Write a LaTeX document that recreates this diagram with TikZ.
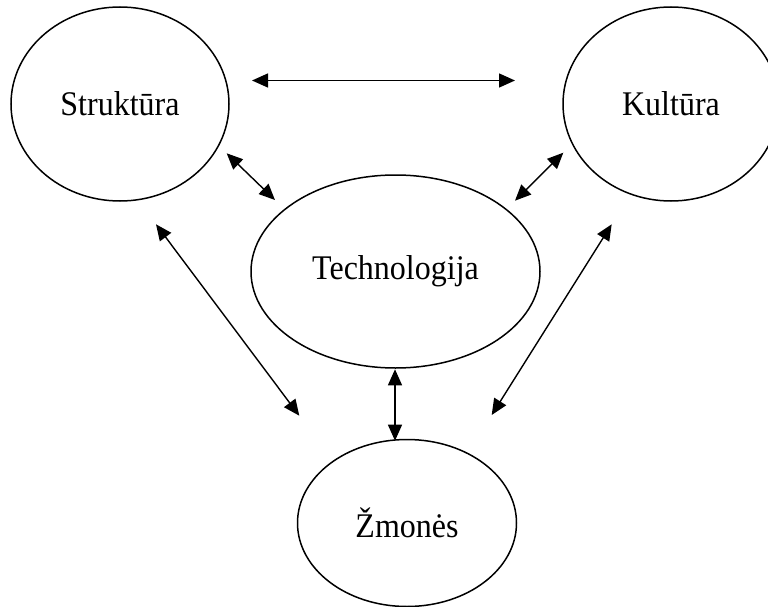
\documentclass[tikz,border=0pt]{standalone}
\usepackage{fontspec}
\setmainfont{Liberation Serif}
\usetikzlibrary{shapes.geometric,arrows.meta}
\newcommand{\tallword}[1]{\scalebox{1}[1.08]{#1}}
\begin{document}
\begin{tikzpicture}[x=1pt,y=-1pt,
  oval/.style={draw,ellipse,line width=1.5pt,inner sep=0pt,
    font=\fontsize{32}{38}\selectfont},
  link/.style={line width=1.4pt,{Triangle[length=16pt,width=14pt]}-{Triangle[length=16pt,width=14pt]}}]
\clip (0,0) rectangle (768,607);
\node[oval,minimum width=218pt,minimum height=194pt] (str) at (120,104) {\tallword{Struktūra}};
\node[oval,minimum width=216pt,minimum height=194pt] (kul) at (671,104) {\tallword{Kultūra}};
\node[oval,minimum width=289pt,minimum height=193pt] (tech) at (395.5,271.5) {\tallword{Technologija}};
\node[oval,minimum width=219pt,minimum height=167pt] (zm) at (407,523) {\tallword{Žmonės}};
\coordinate (t1) at (252,80.5);
\coordinate (t2) at (515,80.5);
\coordinate (a1) at (226.7,153.3);
\coordinate (a2) at (275,200);
\coordinate (b1) at (563.3,152.7);
\coordinate (b2) at (515,200.7);
\coordinate (c1) at (156,224.3);
\coordinate (c2) at (299.3,415.7);
\coordinate (d1) at (611.7,224.3);
\coordinate (d2) at (491.7,415);
\coordinate (v1) at (395,369.3);
\coordinate (v2) at (395,440.7);
\draw[link] (t1) -- (t2);
\draw[link] (a1) -- (a2);
\draw[link] (b1) -- (b2);
\draw[link] (c1) -- (c2);
\draw[link] (d1) -- (d2);
\draw[link] (v1) -- (v2);
\end{tikzpicture}
\end{document}
